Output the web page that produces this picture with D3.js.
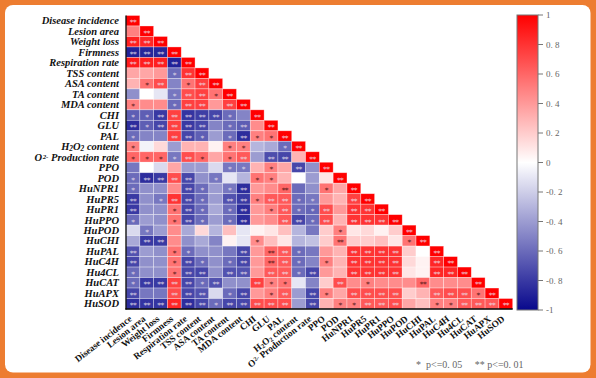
<!DOCTYPE html>
<html><head><meta charset="utf-8">
<script src="https://cdn.jsdelivr.net/npm/d3@7/dist/d3.min.js"></script>
<style>html,body{margin:0;padding:0;background:#fff;}svg{display:block;}</style>
</head><body>
<svg id="c" width="596" height="378"></svg>
<script>
const variables = ["Disease incidence","Lesion area","Weight loss","Firmness","Respiration rate","TSS content","ASA content","TA content","MDA content","CHI","GLU","PAL","H2O2 content","O2- Production rate","PPO","POD","HuNPR1","HuPR5","HuPR1","HuPPO","HuPOD","HuCHI","HuPAL","HuC4H","Hu4CL","HuCAT","HuAPX","HuSOD"];

// lower-triangle correlation values (row i has i+1 values)
const r01 = [1];
const r02 = [0.5, 1];
const r03 = [0.88, 0.85, 1];
const r04 = [-0.9, -0.88, -0.88, 1];
const r05 = [0.9, 0.88, 0.88, -0.9, 1];
const r06 = [0.35, 0.35, 0.4, -0.6, 0.8, 1];
const r07 = [0.3, 0.55, 0.7, -0.5, 0.55, 0.75, 1];
const r08 = [-0.45, 0.0, -0.1, -0.55, 0.7, 0.75, 0.55, 1];
const r09 = [0.5, 0.45, 0.45, -0.6, 0.75, 0.75, 0.4, 0.75, 1];
const r10 = [-0.65, -0.65, -0.8, 0.75, -0.82, -0.78, -0.75, -0.6, -0.5, 1];
const r11 = [-0.85, -0.65, -0.75, 0.75, -0.8, -0.75, -0.5, -0.6, -0.65, 0.45, 1];
const r12 = [-0.6, -0.5, -0.5, 0.75, -0.75, -0.65, -0.4, -0.6, -0.85, 0.5, 0.55, 1];
const r13 = [0.5, -0.05, 0.15, -0.4, 0.3, 0.3, 0.05, 0.5, 0.5, -0.3, -0.35, -0.6, 1];
const r14 = [0.6, 0.6, 0.6, -0.55, 0.7, 0.6, 0.35, 0.55, 0.65, -0.4, -0.72, -0.75, 0.3, 1];
const r15 = [-0.55, 0.0, -0.15, 0.35, -0.4, -0.4, -0.15, -0.55, -0.55, 0.3, 0.5, 0.35, -0.75, -0.45, 1];
const r16 = [-0.6, -0.85, -0.8, 0.7, -0.75, -0.45, -0.55, -0.1, -0.3, 0.55, 0.5, 0.3, 0.0, -0.4, 0.1, 1];
const r17 = [-0.6, -0.45, -0.45, 0.45, -0.75, -0.6, -0.4, -0.55, -0.85, 0.4, 0.45, 0.6, -0.6, -0.45, 0.55, 0.35, 1];
const r18 = [-0.8, -0.45, -0.55, 0.8, -0.75, -0.6, -0.4, -0.7, -0.8, 0.5, 0.65, 0.65, -0.6, -0.55, 0.4, 0.3, 0.75, 1];
const r19 = [-0.8, -0.45, -0.45, 0.55, -0.75, -0.6, -0.35, -0.6, -0.85, 0.4, 0.5, 0.65, -0.6, -0.62, 0.7, 0.4, 0.8, 0.8, 1];
const r20 = [-0.6, -0.4, -0.45, 0.55, -0.75, -0.6, -0.4, -0.6, -0.85, 0.4, 0.45, 0.65, -0.75, -0.6, 0.7, 0.3, 0.8, 0.8, 0.8, 1];
const r21 = [-0.15, -0.55, -0.4, 0.45, -0.35, 0.15, -0.3, 0.25, -0.1, 0.05, 0.1, 0.25, -0.3, -0.55, 0.2, 0.5, 0.1, 0.15, 0.05, 0.2, 1];
const r22 = [-0.35, -0.8, -0.8, 0.45, -0.45, -0.35, -0.5, 0.05, -0.1, 0.45, 0.25, 0.1, -0.3, -0.25, 0.2, 0.55, 0.2, 0.2, 0.25, 0.1, 0.55, 1];
const r23 = [-0.7, -0.4, -0.45, 0.55, -0.6, -0.45, -0.45, -0.55, -0.75, 0.4, 0.6, 0.65, -0.6, -0.55, 0.4, 0.3, 0.8, 0.8, 0.8, 0.8, 0.2, 0.0, 1];
const r24 = [-0.75, -0.45, -0.45, 0.55, -0.75, -0.6, -0.45, -0.6, -0.75, 0.4, 0.6, 0.65, -0.6, -0.5, 0.5, 0.3, 0.8, 0.8, 0.8, 0.8, 0.15, 0.05, 0.85, 1];
const r25 = [-0.6, -0.45, -0.45, 0.55, -0.75, -0.75, -0.45, -0.7, -0.7, 0.4, 0.65, 0.65, -0.6, -0.75, 0.4, 0.3, 0.8, 0.8, 0.8, 0.8, 0.1, 0.05, 0.85, 0.85, 1];
const r26 = [-0.6, -0.8, -0.8, 0.75, -0.75, -0.6, -0.7, -0.45, -0.45, 0.75, 0.5, 0.55, -0.1, -0.5, 0.2, 0.7, 0.45, 0.5, 0.45, 0.45, 0.45, 0.6, 0.45, 0.45, 0.45, 1];
const r27 = [-0.75, -0.55, -0.55, 0.7, -0.75, -0.7, -0.15, -0.6, -0.75, 0.4, 0.5, 0.65, -0.4, -0.75, 0.5, 0.35, 0.7, 0.7, 0.7, 0.7, 0.2, 0.3, 0.65, 0.7, 0.7, 0.55, 1];
const r28 = [-0.85, -0.82, -0.82, 0.85, -0.85, -0.75, -0.6, -0.75, -0.75, 0.7, 0.7, 0.7, -0.4, -0.75, 0.3, 0.5, 0.5, 0.65, 0.65, 0.7, 0.35, 0.25, 0.5, 0.5, 0.65, 0.65, 0.65, 1];

// significance: 0 none, 1 = *, 2 = **
const s01 = [2];
const s02 = [0,2];
const s03 = [2,2,2];
const s04 = [2,2,2,2];
const s05 = [2,2,2,2,2];
const s06 = [0,0,0,1,2,2];
const s07 = [0,1,2,0,1,2,2];
const s08 = [0,0,0,1,2,2,1,2];
const s09 = [1,0,0,1,2,2,0,2,2];
const s10 = [1,1,2,2,2,2,2,1,0,2];
const s11 = [2,1,2,2,2,2,0,1,2,0,2];
const s12 = [1,0,0,2,2,1,0,1,2,1,1,2];
const s13 = [1,0,0,0,0,0,0,1,1,0,0,1,2];
const s14 = [1,1,1,1,2,1,0,1,2,0,2,2,0,2];
const s15 = [0,0,0,0,0,0,0,1,1,0,1,0,2,0,2];
const s16 = [1,2,2,2,2,0,1,0,0,1,1,0,0,0,0,2];
const s17 = [1,0,0,0,2,1,0,1,2,0,0,2,0,0,1,0,2];
const s18 = [2,0,1,2,2,1,0,2,2,1,2,2,1,1,0,0,2,2];
const s19 = [2,0,0,1,2,1,0,1,2,0,1,2,1,1,2,0,2,2,2];
const s20 = [1,0,0,1,2,1,0,1,2,0,0,2,2,1,2,0,2,2,2,2];
const s21 = [0,1,0,0,0,0,0,0,0,0,0,0,0,0,0,1,0,0,0,0,2];
const s22 = [0,2,2,0,0,0,0,0,0,1,0,0,0,0,0,2,0,0,0,0,1,2];
const s23 = [2,0,0,1,1,0,0,0,2,0,2,2,1,0,0,0,2,2,2,2,0,0,2];
const s24 = [2,0,0,1,2,1,0,1,2,0,2,2,1,0,1,0,2,2,2,2,0,0,2,2];
const s25 = [1,0,0,1,2,2,0,2,2,0,2,2,1,2,0,0,2,2,2,2,0,0,2,2,2];
const s26 = [1,2,2,2,2,1,2,0,0,2,1,1,0,0,0,2,0,1,0,0,0,2,0,0,0,2];
const s27 = [2,0,0,2,2,2,0,1,2,0,1,2,0,2,1,0,2,2,2,2,0,0,2,2,2,1,2];
const s28 = [2,2,2,2,2,2,1,2,2,2,2,2,0,2,0,1,1,2,2,2,0,0,1,1,2,2,2,2];

const colorTicks = ["1","0. 8","0. 6","0. 4","0. 2","0","-0. 2","-0. 4","-0. 6","-0. 8","-1"];
const colorTickValues = [1,0.8,0.6,0.4,0.2,0,-0.2,-0.4,-0.6,-0.8,-1];

const rows = [r01,r02,r03,r04,r05,r06,r07,r08,r09,r10,r11,r12,r13,r14,r15,r16,r17,r18,r19,r20,r21,r22,r23,r24,r25,r26,r27,r28];
const sigs = [s01,s02,s03,s04,s05,s06,s07,s08,s09,s10,s11,s12,s13,s14,s15,s16,s17,s18,s19,s20,s21,s22,s23,s24,s25,s26,s27,s28];

const cells = [];
rows.forEach((row, i) => row.forEach((v, j) => cells.push({row: variables[i], col: variables[j], v, s: (sigs[i][j] || 0)})));

const svg = d3.select("#c");
svg.append("rect").attr("width", 596).attr("height", 378).attr("fill", "#ED7D31");
svg.append("rect").attr("x", 5).attr("y", 5).attr("width", 585.5).attr("height", 367.5).attr("rx", 8).attr("fill", "#fff");

const x = d3.scaleBand().domain(variables).range([126, 512.7]);
const y = d3.scaleBand().domain(variables).range([15.5, 309]);
const color = d3.scaleLinear().domain([-1, 0, 1]).range(["#08088c", "#ffffff", "#ff0000"]);

svg.append("g").selectAll("rect").data(cells).join("rect")
  .attr("x", d => x(d.col)).attr("y", d => y(d.row))
  .attr("width", x.bandwidth()).attr("height", y.bandwidth())
  .attr("fill", d => color(d.v))
  .attr("stroke", "rgba(255,255,255,0.45)").attr("stroke-width", 0.7);

svg.append("g").selectAll("text").data(cells.filter(d => d.s > 0)).join("text")
  .attr("x", d => x(d.col) + x.bandwidth() / 2)
  .attr("y", d => y(d.row) + y.bandwidth() / 2 + 4.6)
  .attr("text-anchor", "middle")
  .attr("font-family", "DejaVu Sans").attr("font-size", 7.5).attr("letter-spacing", -0.6)
  .attr("fill", d => (d.v <= -0.5 || d.v >= 0.62) ? "rgba(235,225,235,0.9)" : "#5b1a1a")
  .text(d => d.s === 2 ? "**" : "*");

// axis lines
svg.append("line").attr("x1", 126).attr("x2", 126).attr("y1", 15.5).attr("y2", 309.5).attr("stroke", "#000").attr("stroke-width", 1.3);
svg.append("line").attr("x1", 125.4).attr("x2", 512.7).attr("y1", 309).attr("y2", 309).attr("stroke", "#000").attr("stroke-width", 1.3);

function labelParts(name) {
  if (name === "H2O2 content") return [["H",0],["2",-1],["O",0],["2",-1],[" content",0]];
  if (name === "O2- Production rate") return [["O",0],["2-",1],[" Production rate",0]];
  return [[name,0]];
}
function addParts(t, name) {
  labelParts(name).forEach(([s, k]) => {
    const ts = t.append("tspan").text(s);
    if (k === -1) ts.attr("baseline-shift", "-15%").attr("font-size", "70%");
    if (k === 1) ts.attr("baseline-shift", "35%").attr("font-size", "65%").attr("dx", 0.6);
  });
}

// row labels
svg.append("g").selectAll("text").data(variables).join("text")
  .attr("x", 119).attr("y", d => y(d) + y.bandwidth() / 2 + 3.6)
  .attr("text-anchor", "end")
  .attr("font-family", "Liberation Serif").attr("font-weight", "bold").attr("font-style", "italic")
  .attr("font-size", 10.5).attr("fill", "#111")
  .each(function(d) { addParts(d3.select(this), d); });

// column labels
svg.append("g").selectAll("text").data(variables).join("text")
  .attr("transform", d => `translate(${x(d) + x.bandwidth() / 2 - 0.5},${320}) rotate(-38)`)
  .attr("text-anchor", "end")
  .attr("font-family", "Liberation Serif").attr("font-weight", "bold")
  .attr("font-size", 9.3).attr("fill", "#111")
  .each(function(d) { addParts(d3.select(this), d); });

// colorbar
const defs = svg.append("defs");
const grad = defs.append("linearGradient").attr("id", "cb").attr("x1", 0).attr("y1", 1).attr("x2", 0).attr("y2", 0);
d3.range(0, 1.0001, 0.05).forEach(t => grad.append("stop").attr("offset", t).attr("stop-color", color(-1 + 2 * t)));
const cy = d3.scaleLinear().domain([-1, 1]).range([310, 15]);
svg.append("rect").attr("x", 517).attr("y", 15).attr("width", 21).attr("height", 295)
  .attr("fill", "url(#cb)").attr("stroke", "#777").attr("stroke-width", 1);
const cg = svg.append("g");
cg.selectAll("line").data(colorTickValues).join("line")
  .attr("x1", 538).attr("x2", 543).attr("y1", d => cy(d)).attr("y2", d => cy(d))
  .attr("stroke", "#777").attr("stroke-width", 1);
cg.selectAll("text").data(colorTickValues).join("text")
  .attr("x", 546).attr("y", d => cy(d) + 3)
  .attr("font-family", "Liberation Serif").attr("font-size", 9).attr("fill", "#666")
  .text((d, i) => colorTicks[i]);

// significance legend
svg.append("text").attr("x", 416).attr("y", 368)
  .attr("font-family", "Liberation Serif").attr("font-size", 10).attr("fill", "#666")
  .attr("xml:space", "preserve")
  .text("*  p<=0. 05     ** p<=0. 01");
</script>
</body></html>
